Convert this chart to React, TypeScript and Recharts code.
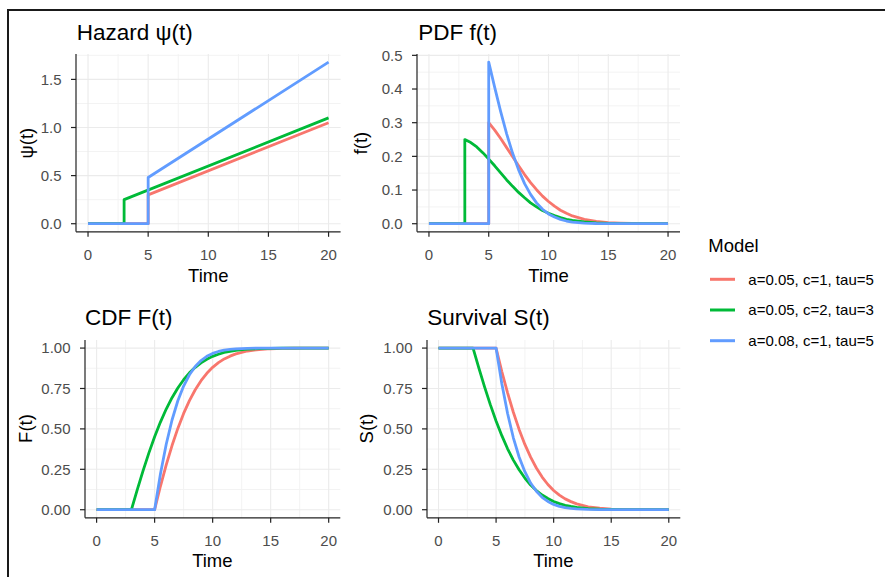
import React from 'react';
import { LineChart, Line, XAxis, YAxis, CartesianGrid } from 'recharts';

// ---------- data ----------
const modelNames = ['a=0.05, c=1, tau=5', 'a=0.05, c=2, tau=3', 'a=0.08, c=1, tau=5'];
const modelColors = ['#F8766D', '#00BA38', '#619CFF'];
const timeStart = [0];

const tFrom5 = [5, 5.5, 6, 6.5, 7, 7.5, 8, 8.5, 9, 9.5, 10, 10.5, 11, 11.5, 12, 13, 14, 15, 16, 17, 18, 19, 20];
const tFrom3 = [3, 3.5, 4, 4.5, 5, 5.5, 6, 6.5, 7, 7.5, 8, 8.5, 9, 9.5, 10, 10.5, 11, 11.5, 12, 13, 14, 15, 16, 17, 18, 19, 20];

const hazardTimesRed = [5, 20];
const hazardTimesGreen = [3, 20];
const hazardTimesBlue = [5, 20];
const hazardRed = [0.3, 1.05];
const hazardGreen = [0.25, 1.1];
const hazardBlue = [0.48, 1.68];

const pdfRed = [0.300, 0.278, 0.253, 0.226, 0.199, 0.172, 0.146, 0.122, 0.101, 0.082, 0.066, 0.052, 0.040, 0.031, 0.023, 0.013, 0.007, 0.003, 0.0015, 0.0007, 0.0003, 0.0001, 0];
const pdfGreen = [0.250, 0.241, 0.228, 0.211, 0.192, 0.172, 0.151, 0.130, 0.111, 0.093, 0.077, 0.062, 0.050, 0.039, 0.031, 0.024, 0.018, 0.013, 0.0097, 0.0051, 0.0025, 0.0012, 0.0005, 0.0002, 0.0001, 0, 0];
const pdfBlue = [0.480, 0.405, 0.333, 0.267, 0.209, 0.160, 0.119, 0.087, 0.062, 0.043, 0.029, 0.020, 0.013, 0.008, 0.005, 0.0019, 0.0006, 0.0002, 0, 0, 0, 0, 0];

const cdfRed = [0, 0.145, 0.277, 0.397, 0.503, 0.596, 0.675, 0.742, 0.798, 0.844, 0.881, 0.910, 0.933, 0.950, 0.964, 0.982, 0.991, 0.996, 0.998, 0.999, 0.9997, 0.9999, 1];
const cdfGreen = [0, 0.123, 0.240, 0.350, 0.451, 0.542, 0.623, 0.693, 0.753, 0.804, 0.847, 0.881, 0.909, 0.931, 0.949, 0.962, 0.973, 0.980, 0.986, 0.9933, 0.9969, 0.9986, 0.9994, 0.9998, 0.9999, 1, 1];
const cdfBlue = [0, 0.221, 0.405, 0.555, 0.674, 0.765, 0.835, 0.886, 0.923, 0.949, 0.967, 0.979, 0.987, 0.992, 0.995, 0.9983, 0.9995, 0.9998, 1, 1, 1, 1, 1];

const survRed = [1, 0.855, 0.723, 0.603, 0.497, 0.404, 0.325, 0.258, 0.202, 0.156, 0.119, 0.090, 0.067, 0.050, 0.036, 0.018, 0.009, 0.004, 0.002, 0.001, 0.0003, 0.0001, 0];
const survGreen = [1, 0.877, 0.760, 0.650, 0.549, 0.458, 0.377, 0.307, 0.247, 0.196, 0.153, 0.119, 0.091, 0.069, 0.051, 0.038, 0.027, 0.020, 0.014, 0.0067, 0.0031, 0.0014, 0.0006, 0.0002, 0.0001, 0, 0];
const survBlue = [1, 0.779, 0.595, 0.445, 0.326, 0.235, 0.165, 0.114, 0.077, 0.051, 0.033, 0.021, 0.013, 0.008, 0.005, 0.0017, 0.0005, 0.0002, 0, 0, 0, 0, 0];

const xTicks = [0, 5, 10, 15, 20];
const xMinor = [2.5, 7.5, 12.5, 17.5];
const xDomain = [-1, 21];

// ---------- table building ----------
type Pt = { t: number; v: number };
function build(times: number[], values: number[], before: number): Pt[] {
  const out: Pt[] = [{ t: timeStart[0], v: before }, { t: times[0], v: before }];
  times.forEach((t, i) => out.push({ t, v: values[i] }));
  return out;
}

const hazardSeries = [
  build(hazardTimesRed, hazardRed, 0),
  build(hazardTimesGreen, hazardGreen, 0),
  build(hazardTimesBlue, hazardBlue, 0),
];
const pdfSeries = [build(tFrom5, pdfRed, 0), build(tFrom3, pdfGreen, 0), build(tFrom5, pdfBlue, 0)];
const cdfSeries = [build(tFrom5, cdfRed, 0), build(tFrom3, cdfGreen, 0), build(tFrom5, cdfBlue, 0)];
const survSeries = [build(tFrom5, survRed, 1), build(tFrom3, survGreen, 1), build(tFrom5, survBlue, 1)];

// ---------- layout ----------
const FONT = "'Liberation Sans', Arial, Helvetica, sans-serif";
const YW = 70;
const XH = 60;
const TM = 10;
const RM = 10;

type Panel = {
  title: string;
  ylab: string;
  series: Pt[][];
  plot: { x: number; y: number; w: number; h: number };
  yDomain: [number, number];
  yTicks: number[];
  yMinor: number[];
  digits: number;
  titlePos: [number, number];
  yTitleX: number;
};

const panels: Panel[] = [
  {
    title: 'Hazard ψ(t)', ylab: 'ψ(t)', series: hazardSeries,
    plot: { x: 76, y: 54.2, w: 264.6, h: 177.8 },
    yDomain: [-0.084, 1.764], yTicks: [0, 0.5, 1, 1.5], yMinor: [0.25, 0.75, 1.25, 1.75], digits: 1,
    titlePos: [76.7, 40], yTitleX: 33.2,
  },
  {
    title: 'PDF f(t)', ylab: 'f(t)', series: pdfSeries,
    plot: { x: 417, y: 54.2, w: 263, h: 177.8 },
    yDomain: [-0.024, 0.504], yTicks: [0, 0.1, 0.2, 0.3, 0.4, 0.5], yMinor: [0.05, 0.15, 0.25, 0.35, 0.45], digits: 1,
    titlePos: [418.3, 40], yTitleX: 367.2,
  },
  {
    title: 'CDF F(t)', ylab: 'F(t)', series: cdfSeries,
    plot: { x: 84.7, y: 339.6, w: 255.3, h: 177.8 },
    yDomain: [-0.05, 1.05], yTicks: [0, 0.25, 0.5, 0.75, 1], yMinor: [0.125, 0.375, 0.625, 0.875], digits: 2,
    titlePos: [85, 324.5], yTitleX: 31.5,
  },
  {
    title: 'Survival S(t)', ylab: 'S(t)', series: survSeries,
    plot: { x: 426.7, y: 339.6, w: 253.3, h: 177.8 },
    yDomain: [-0.05, 1.05], yTicks: [0, 0.25, 0.5, 0.75, 1], yMinor: [0.125, 0.375, 0.625, 0.875], digits: 2,
    titlePos: [427.3, 324.5], yTitleX: 372.5,
  },
];

const tickStyle = { fill: '#4D4D4D', fontSize: 15, fontFamily: FONT };
const axisStroke = '#222222';

function PanelChart({ p }: { p: Panel }) {
  const width = YW + p.plot.w + RM;
  const height = TM + p.plot.h + XH;
  return (
    <div style={{ position: 'absolute', left: p.plot.x - YW, top: p.plot.y - TM, width, height }}>
      <LineChart width={width} height={height} margin={{ top: TM, right: RM, left: 0, bottom: 0 }}>
        <CartesianGrid
          stroke="#F3F3F3"
          strokeWidth={1}
          horizontalValues={p.yMinor}
          verticalValues={xMinor}
          fill="none"
        />
        <CartesianGrid
          stroke="#EBEBEB"
          strokeWidth={1.1}
          horizontalValues={p.yTicks}
          verticalValues={xTicks}
          fill="none"
        />
        <XAxis
          type="number"
          dataKey="t"
          domain={xDomain}
          ticks={xTicks}
          interval={0}
          allowDataOverflow
          height={XH}
          tickSize={5}
          tickMargin={12.5}
          tick={tickStyle}
          axisLine={{ stroke: axisStroke, strokeWidth: 1.2 }}
          tickLine={{ stroke: axisStroke, strokeWidth: 1.2 }}
        />
        <YAxis
          type="number"
          domain={p.yDomain}
          ticks={p.yTicks}
          interval={0}
          allowDataOverflow
          width={YW}
          tickSize={5}
          tickMargin={9.5}
          tick={tickStyle}
          tickFormatter={(v: number) => v.toFixed(p.digits)}
          axisLine={{ stroke: axisStroke, strokeWidth: 1.2 }}
          tickLine={{ stroke: axisStroke, strokeWidth: 1.2 }}
        />
        {p.series.map((s, i) => (
          <Line
            key={modelNames[i]}
            data={s}
            dataKey="v"
            type="linear"
            stroke={modelColors[i]}
            strokeWidth={2.8}
            strokeLinejoin="round"
            strokeLinecap="butt"
            dot={false}
            activeDot={false}
            isAnimationActive={false}
          />
        ))}
      </LineChart>
    </div>
  );
}

export default function App() {
  return (
    <div
      style={{
        position: 'absolute',
        left: 0,
        top: 0,
        width: 885,
        height: 577,
        background: '#ffffff',
        overflow: 'hidden',
        fontFamily: FONT,
      }}
    >
      <div
        style={{
          position: 'absolute',
          left: 7,
          top: 9,
          width: 885,
          height: 577,
          borderTop: '2px solid #1a1a1a',
          borderLeft: '2px solid #1a1a1a',
        }}
      />
      {panels.map((p) => (
        <PanelChart key={p.title} p={p} />
      ))}
      <svg
        width={885}
        height={577}
        style={{ position: 'absolute', left: 0, top: 0, pointerEvents: 'none' }}
      >
        {panels.map((p) => {
          const cx = p.plot.x + p.plot.w / 2;
          const cy = p.plot.y + p.plot.h / 2;
          return (
            <g key={p.title} fontFamily={FONT}>
              <text x={p.titlePos[0]} y={p.titlePos[1]} fontSize={22.5} fill="#000">
                {p.title}
              </text>
              <text x={cx} y={p.plot.y + p.plot.h + 49.5} fontSize={18.5} textAnchor="middle" fill="#000">
                Time
              </text>
              <text
                x={p.yTitleX}
                y={cy}
                fontSize={18.5}
                textAnchor="middle"
                fill="#000"
                transform={`rotate(-90 ${p.yTitleX} ${cy})`}
              >
                {p.ylab}
              </text>
            </g>
          );
        })}
        <g fontFamily={FONT}>
          <text x={708.3} y={251.7} fontSize={18.5} fill="#000">
            Model
          </text>
          {modelNames.map((name, i) => {
            const y = 279.3 + i * 30.7;
            return (
              <g key={name}>
                <line x1={710} x2={735} y1={y} y2={y} stroke={modelColors[i]} strokeWidth={3} />
                <text x={748.3} y={y + 5.3} fontSize={15} fill="#000">
                  {name}
                </text>
              </g>
            );
          })}
        </g>
      </svg>
    </div>
  );
}
